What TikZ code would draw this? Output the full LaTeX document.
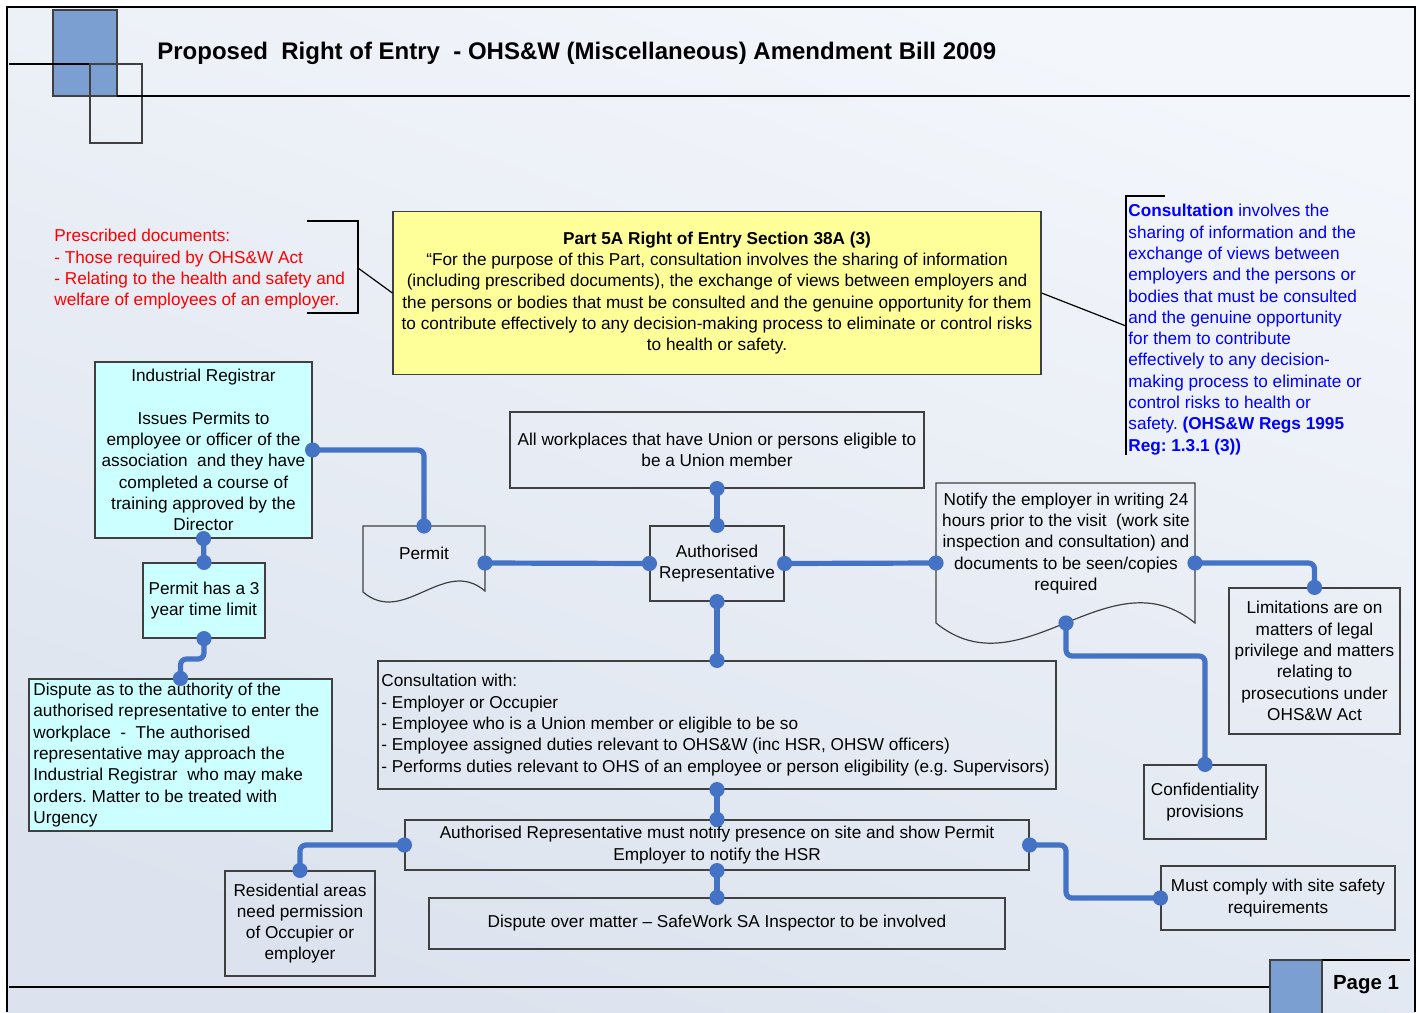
\documentclass[tikz,border=0pt]{standalone}
\usepackage{fontspec}
\setmainfont{Liberation Sans}
\definecolor{conblue}{HTML}{4472C4}
\definecolor{boxline}{HTML}{404040}
\definecolor{cyanfill}{HTML}{CCFFFF}
\definecolor{yelfill}{HTML}{FFFF99}
\definecolor{hdrblue}{HTML}{7B9FD0}
\definecolor{bgtop}{HTML}{F3F6FB}
\definecolor{bgbot}{HTML}{DCE3EE}
\definecolor{redtxt}{HTML}{FF0000}
\definecolor{bluetxt}{HTML}{0000FF}
\newcommand\fs{\fontsize{8.6}{10.65}\selectfont}
\frenchspacing
\begin{document}
\begin{tikzpicture}[x=0.5pt,y=-0.5pt,
  box/.style={draw=boxline,line width=0.6pt,inner sep=0pt,align=center,font=\fs},
  conn/.style={draw=conblue,line width=2.6pt,rounded corners=3pt},
  thin/.style={draw=black,line width=0.6pt},
  txt/.style={inner sep=0pt,font=\fs}]
\useasboundingbox (0,0) rectangle (1418,1012);
\fill[white] (0,0) rectangle (1418,1012);
\shade[shading=axis,top color=bgtop,bottom color=bgbot,shading angle=-20] (7,7) rectangle (1415,1012);
\draw[line width=1pt] (7,1012) -- (7,7) -- (1415,7) -- (1415,1012);
% header
\filldraw[fill=hdrblue,draw=boxline,line width=0.6pt] (53,10) rectangle (117,96);
\draw[thin] (9,64) -- (90,64);
\draw[thin,draw=boxline] (90,64) rectangle (142,143);
\draw[thin] (117,96) -- (1410,96);
\node[inner sep=0pt,anchor=west,font=\fontsize{12}{14}\selectfont\bfseries] (title) at (157,53)
  {Proposed\ \ Right of Entry\ \ - OHS\&W (Miscellaneous) Amendment Bill 2009};
% footer
\draw[thin] (9,987) -- (1270,987);
\filldraw[fill=hdrblue,draw=boxline,line width=0.6pt] (1270,960) rectangle (1322,1016);
\draw[thin] (1322,960) -- (1410,960);
\node[inner sep=0pt,font=\fontsize{10.2}{12}\selectfont\bfseries] (page) at (1366,985) {Page 1};

% red prescribed documents
\node[txt,anchor=north west,align=left,text=redtxt] (presc) at (54,229)
  {Prescribed documents:\\- Those required by OHS\&W Act\\- Relating to the health and safety and\\welfare of employees of an employer.};
\draw[thin] (307,221) -- (358,221) -- (358,313) -- (307,313);
\coordinate (brk1) at (358,268);

% yellow box
\node[box,fill=yelfill,minimum width=324pt,minimum height=81.5pt] (yel) at (717,293)
  {\textbf{Part 5A Right of Entry Section 38A (3)}\\
   “For the purpose of this Part, consultation involves the sharing of information\\
   (including prescribed documents), the exchange of views between employers and\\
   the persons or bodies that must be consulted and the genuine opportunity for them\\
   to contribute effectively to any decision-making process to eliminate or control risks\\
   to health or safety.};
\draw[thin] (brk1) -- (yel.west);

% blue consultation text
\node[txt,anchor=north west,align=left,text=bluetxt] (consdef) at (1128,204)
  {\textbf{Consultation} involves the\\sharing of information and the\\exchange of views between\\employers and the persons or\\bodies that must be consulted\\and the genuine opportunity\\for them to contribute\\effectively to any decision-\\making process to eliminate or\\control risks to health or\\safety. \textbf{(OHS\&W Regs 1995}\\\textbf{Reg: 1.3.1 (3))}};
\draw[thin] (1165,196) -- (1126,196) -- (1126,455);
\coordinate (brk2) at (1126,326);
\draw[thin] (yel.east) -- (brk2);

% boxes
\node[box,fill=cyanfill,minimum width=108.5pt,minimum height=88pt] (ir) at (203.5,450)
  {Industrial Registrar\\[10.65pt]Issues Permits to\\employee or officer of the\\association\ \ and they have\\completed a course of\\training approved by the\\Director};
\node[box,fill=cyanfill,minimum width=61pt,minimum height=37.5pt] (p3) at (204,600.5)
  {Permit has a 3\\year time limit};
\node[box,fill=cyanfill,minimum width=151.5pt,minimum height=76pt] (disp) at (180.5,755) {};
\node[txt,anchor=west,align=left] (dispT) at (33,755)
  {Dispute as to the authority of the\\authorised representative to enter the\\workplace\ \ -\ \ The authorised\\representative may approach the\\Industrial Registrar\ \ who may make\\orders. Matter to be treated with\\Urgency};
\node[box,minimum width=207pt,minimum height=38pt] (aw) at (717,450)
  {All workplaces that have Union or persons eligible to\\be a Union member};
\node[box,minimum width=67pt,minimum height=37.5pt] (ar) at (717,563.5)
  {Authorised\\Representative};
\node[box,minimum width=85.5pt,minimum height=73pt] (lim) at (1314.5,661)
  {Limitations are on\\matters of legal\\privilege and matters\\relating to\\prosecutions under\\OHS\&W Act};
\node[box,minimum width=61pt,minimum height=37pt] (conf) at (1205,802)
  {Confidentiality\\provisions};
\node[box,minimum width=339pt,minimum height=64pt] (cons) at (717,725) {};
\node[txt,anchor=west,align=left] (consT) at (381,725)
  {Consultation with:\\- Employer or Occupier\\- Employee who is a Union member or eligible to be so\\- Employee assigned duties relevant to OHS\&W (inc HSR, OHSW officers)\\- Performs duties relevant to OHS of an employee or person eligibility (e.g. Supervisors)};
\node[box,minimum width=312pt,minimum height=25pt] (arn) at (717,845)
  {Authorised Representative must notify presence on site and show Permit\\Employer to notify the HSR};
\node[box,minimum width=75pt,minimum height=52.5pt] (res) at (300,923.5)
  {Residential areas\\need permission\\of Occupier or\\employer};
\node[box,minimum width=288pt,minimum height=25.5pt] (dism) at (717,923.5)
  {Dispute over matter -- SafeWork SA Inspector to be involved};
\node[box,minimum width=117pt,minimum height=32pt] (must) at (1278,898)
  {Must comply with site safety\\requirements};

% document shapes
\draw[draw=boxline,line width=0.6pt] (363,592) -- (363,526) -- (485,526) -- (485,591)
   .. controls (444,556) and (404,627) .. (363,592);
\node[txt] (permit) at (424,553) {Permit};
\coordinate (permitN) at (424,526);
\coordinate (permitE) at (485,563);

\draw[draw=boxline,line width=0.6pt] (936,623) -- (936,483) -- (1195,483) -- (1195,623)
   .. controls (1109,553) and (1022,693) .. (936,623);
\node[txt,align=center] (notify) at (1066,543.5)
  {Notify the employer in writing 24\\hours prior to the visit\ \ (work site\\inspection and consultation) and\\documents to be seen/copies\\required};
\coordinate (notifyW) at (936,563);
\coordinate (notifyE) at (1195,563);
\coordinate (notifyS) at (1066,623);
\coordinate (bendA) at (1066,656);
\coordinate (bendB) at (204,659);
\coordinate (bendC) at (1066,845);

% connectors
\draw[conn] (ir.east) -| (permitN);
\draw[conn] (permitE) -- (ar.west);
\draw[conn] (aw.south) -- (ar.north);
\draw[conn] (ar.east) -- (notifyW);
\draw[conn] (ar.south) -- (cons.north);
\draw[conn] (notifyE) -| (lim.north);
\draw[conn] (notifyS) -- (bendA) -| (conf.north);
\draw[conn] (ir.south) -- (p3.north);
\draw[conn] (p3.south) -- (bendB) -| (disp.north);
\draw[conn] (cons.south) -- (arn.north);
\draw[conn] (arn.south) -- (dism.north);
\draw[conn] (arn.west) -| (res.north);
\draw[conn] (arn.east) -- (bendC) |- (must.west);
% dots
\foreach \p in {ir.east,permitN,permitE,ar.west,aw.south,ar.north,ar.east,notifyW,ar.south,cons.north,
  notifyE,lim.north,notifyS,conf.north,ir.south,p3.north,p3.south,disp.north,cons.south,arn.north,
  arn.south,dism.north,arn.west,res.north,arn.east,must.west}
  \fill[conblue] (\p) circle (3.8pt);
\end{tikzpicture}
\end{document}
